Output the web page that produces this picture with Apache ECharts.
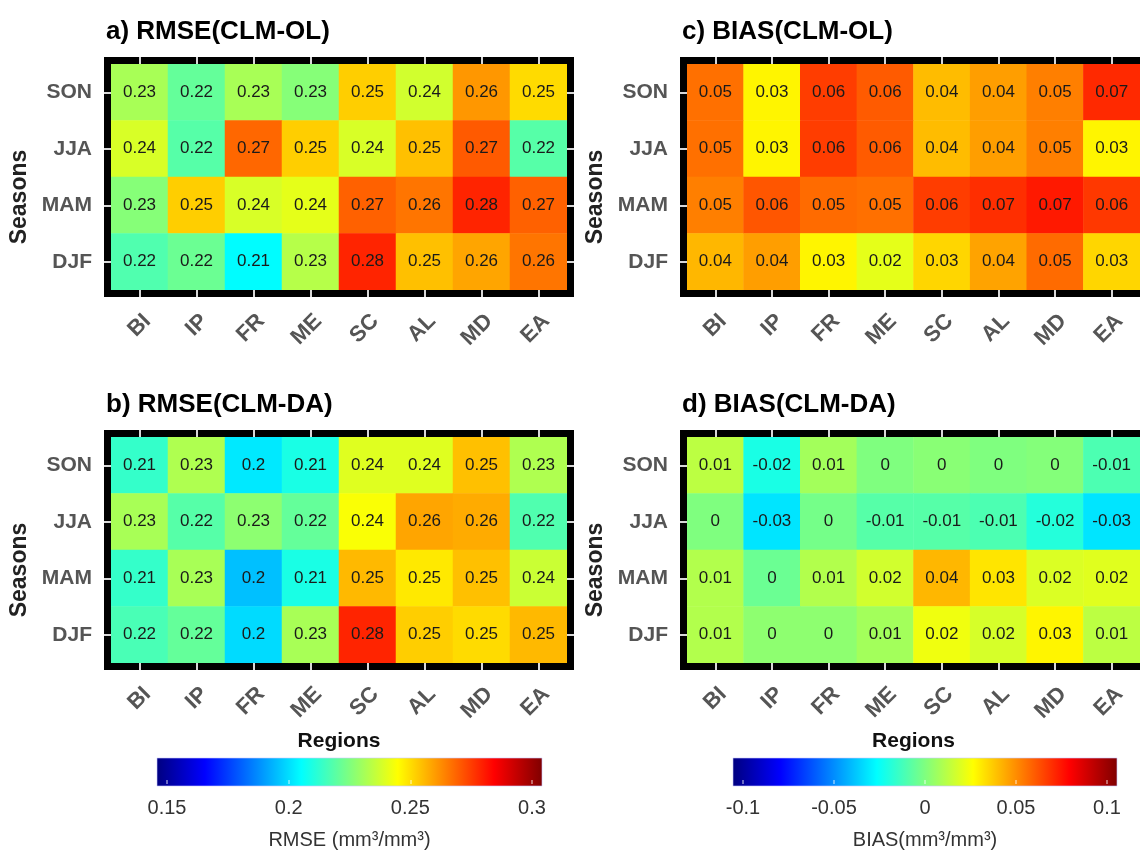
<!DOCTYPE html>
<html>
<head>
<meta charset="utf-8">
<script src="https://cdn.jsdelivr.net/npm/echarts@6/dist/echarts.min.js"></script>
<style>html,body{margin:0;padding:0;background:#fff;overflow:hidden}#c{width:1140px;height:851px}</style>
</head>
<body>
<div id="c"></div>
<script>
// ---------- data ----------
const regions = ['BI', 'IP', 'FR', 'ME', 'SC', 'AL', 'MD', 'EA'];
const seasonsTopDown = ['SON', 'JJA', 'MAM', 'DJF'];
const seasonsAxis = ['DJF', 'MAM', 'JJA', 'SON'];

// rows: SON, JJA, MAM, DJF ; columns: regions
const rmseOL = [
  [0.231, 0.221, 0.231, 0.226, 0.251, 0.237, 0.259, 0.249],
  [0.238, 0.219, 0.266, 0.251, 0.238, 0.253, 0.268, 0.219],
  [0.226, 0.251, 0.238, 0.240, 0.267, 0.264, 0.276, 0.267],
  [0.218, 0.222, 0.206, 0.233, 0.276, 0.253, 0.257, 0.264]
];
const rmseDA = [
  [0.214, 0.232, 0.203, 0.210, 0.239, 0.239, 0.253, 0.232],
  [0.231, 0.219, 0.227, 0.221, 0.243, 0.257, 0.256, 0.218],
  [0.214, 0.231, 0.197, 0.210, 0.254, 0.247, 0.253, 0.236],
  [0.217, 0.221, 0.201, 0.231, 0.276, 0.251, 0.249, 0.254]
];
const biasOL = [
  [0.053, 0.027, 0.063, 0.057, 0.038, 0.044, 0.050, 0.067],
  [0.053, 0.027, 0.063, 0.057, 0.038, 0.044, 0.050, 0.027],
  [0.050, 0.058, 0.054, 0.053, 0.063, 0.066, 0.070, 0.064],
  [0.039, 0.044, 0.027, 0.020, 0.033, 0.043, 0.054, 0.033]
];
const biasDA = [
  [0.012, -0.020, 0.007, 0.000, 0.002, 0.000, 0.001, -0.010],
  [0.000, -0.030, -0.002, -0.008, -0.008, -0.010, -0.018, -0.030],
  [0.010, -0.004, 0.010, 0.016, 0.039, 0.030, 0.018, 0.019],
  [0.010, 0.003, 0.003, 0.007, 0.022, 0.017, 0.027, 0.012]
];

const panelTitles = ['a) RMSE(CLM-OL)', 'b) RMSE(CLM-DA)', 'c) BIAS(CLM-OL)', 'd) BIAS(CLM-DA)'];
const rmseRange = [0.15, 0.3];
const biasRange = [-0.1, 0.1];
const cbarStep = 0.05;
const rmseLabel = 'RMSE (mm\u00B3/mm\u00B3)';
const biasLabel = 'BIAS(mm\u00B3/mm\u00B3)';

// jet colormap
const jet = ['#00007F', '#0000FF', '#007FFF', '#00FFFF', '#7FFF7F', '#FFFF00', '#FF7F00', '#FF0000', '#7F0000'];

// ---------- layout ----------
const FONT = '"Liberation Sans", Arial, Helvetica, sans-serif';
const PW = 456, PH = 226;
const panels = [
  { data: rmseOL, left: 111, top: 64, xname: '' },
  { data: rmseDA, left: 111, top: 437, xname: 'Regions' },
  { data: biasOL, left: 687, top: 64, xname: '' },
  { data: biasDA, left: 687, top: 437, xname: 'Regions' }
];
const cbars = [
  { range: rmseRange, left: 167, width: 365, barLeft: 157, barWidth: 385, name: rmseLabel },
  { range: biasRange, left: 743, width: 364, barLeft: 733, barWidth: 384, name: biasLabel }
];
const CB_TOP = 758, CB_H = 28;

const fmt = v => String(Number(Number(v).toFixed(2)));

const grid = [], xAxis = [], yAxis = [], series = [], title = [], graphic = [];

panels.forEach((p, i) => {
  grid.push({ left: p.left, top: p.top, width: PW, height: PH, containLabel: false });
  const tick = { show: true, alignWithLabel: true, length: 7, inside: false, lineStyle: { color: '#d8d8d8', width: 2 } };
  // bottom x
  xAxis.push({
    type: 'category', gridIndex: i, data: regions, position: 'bottom', z: 10,
    axisLine: { show: false }, axisTick: tick, splitLine: { show: false },
    axisLabel: { rotate: 45, margin: 20, verticalAlign: 'top', fontSize: 22, fontWeight: 'bold', color: '#555', fontFamily: FONT },
    name: p.xname, nameLocation: 'middle', nameGap: 68,
    nameTextStyle: { fontSize: 21, fontWeight: 'bold', color: '#111', fontFamily: FONT }
  });
  // top x (ticks only)
  xAxis.push({
    type: 'category', gridIndex: i, data: regions, position: 'top', z: 10,
    axisLine: { show: false }, axisTick: tick, axisLabel: { show: false }, splitLine: { show: false }
  });
  yAxis.push({
    type: 'category', gridIndex: i, data: seasonsAxis, position: 'left', z: 10,
    axisLine: { show: false }, axisTick: tick, splitLine: { show: false },
    axisLabel: { margin: 19, fontSize: 21, fontWeight: 'bold', color: '#555', fontFamily: FONT },
    name: 'Seasons', nameLocation: 'middle', nameGap: 80,
    nameTextStyle: { fontSize: 23, fontWeight: 'bold', color: '#222', fontFamily: FONT, padding: [0, 40, 0, 0] }
  });
  yAxis.push({
    type: 'category', gridIndex: i, data: seasonsAxis, position: 'right', z: 10,
    axisLine: { show: false }, axisTick: tick, axisLabel: { show: false }, splitLine: { show: false }
  });
  const data = [];
  p.data.forEach((row, r) => {
    row.forEach((v, c) => data.push([c, seasonsTopDown[r], v]));
  });
  series.push({
    type: 'heatmap', xAxisIndex: 2 * i, yAxisIndex: 2 * i, data: data, z: 2,
    label: { show: true, formatter: pr => fmt(pr.value[2]), fontSize: 17, color: '#1a1a1a', fontFamily: FONT },
    itemStyle: { borderWidth: 0 },
    emphasis: { disabled: true }
  });
  title.push({
    text: panelTitles[i], left: p.left - 5, top: p.top - 45, padding: 0,
    textStyle: { fontSize: 26, fontWeight: 'bold', color: '#000', fontFamily: FONT }
  });
  graphic.push({
    type: 'rect', z: 5, silent: true,
    shape: { x: p.left - 3.5, y: p.top - 3.5, width: PW + 7, height: PH + 7 },
    style: { fill: 'transparent', stroke: '#000', lineWidth: 7 }
  });
});

// colorbars
cbars.forEach((cb, k) => {
  const gi = grid.length;
  grid.push({ left: cb.left, top: CB_TOP, width: cb.width, height: CB_H });
  xAxis.push({
    type: 'value', gridIndex: gi, min: cb.range[0], max: cb.range[1], interval: cbarStep, position: 'bottom', z: 10,
    axisLine: { show: false }, splitLine: { show: false },
    axisTick: { show: true, inside: true, length: 4, lineStyle: { color: 'rgba(255,255,255,0.55)', width: 1.5 } },
    axisLabel: { formatter: v => fmt(v), margin: 14, fontSize: 20, color: '#333', fontFamily: FONT },
    name: cb.name, nameLocation: 'middle', nameGap: 46,
    nameTextStyle: { fontSize: 20, color: '#333', fontFamily: FONT }
  });
  yAxis.push({ type: 'value', gridIndex: gi, show: false, min: 0, max: 1 });
  graphic.push({
    type: 'rect', z: 1, silent: true,
    shape: { x: cb.barLeft, y: CB_TOP, width: cb.barWidth, height: CB_H },
    style: {
      fill: new echarts.graphic.LinearGradient(0, 0, 1, 0,
        jet.map((c, j) => ({ offset: j / (jet.length - 1), color: c }))),
      stroke: 'rgba(200,200,255,0.6)', lineWidth: 1
    }
  });
});

const chart = echarts.init(document.getElementById('c'), null, { renderer: 'canvas' });
chart.setOption({
  backgroundColor: '#fff',
  animation: false,
  title: title,
  grid: grid,
  xAxis: xAxis,
  yAxis: yAxis,
  visualMap: [
    { type: 'continuous', show: false, seriesIndex: [0, 1], min: rmseRange[0], max: rmseRange[1], inRange: { color: jet } },
    { type: 'continuous', show: false, seriesIndex: [2, 3], min: biasRange[0], max: biasRange[1], inRange: { color: jet } }
  ],
  series: series,
  graphic: graphic
});
</script>
</body>
</html>
